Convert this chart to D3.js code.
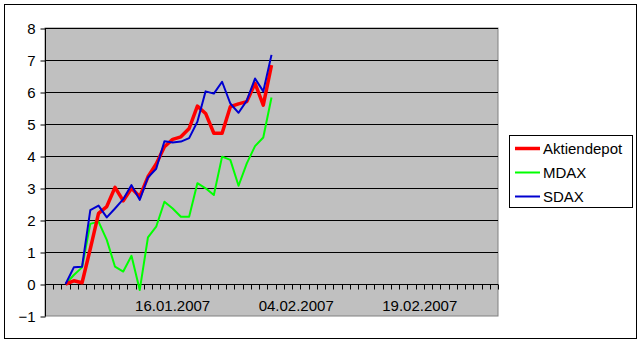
<!DOCTYPE html>
<html>
<head>
<meta charset="utf-8">
<script src="https://cdn.jsdelivr.net/npm/d3@7"></script>
<style>
  html, body { margin: 0; padding: 0; background: #fff; }
  svg { display: block; font-family: "Liberation Sans", Arial, sans-serif; }
</style>
</head>
<body>
<svg id="chart" width="642" height="343"></svg>
<script>
// ---- data ----
const seriesNames = ["Aktiendepot", "MDAX", "SDAX"];
const seriesColors = ["#FF0000", "#00FF00", "#0000D0"];
const aktiendepot = [0, 0.10, 0.04, 1.10, 2.21, 2.42, 3.02, 2.60, 2.99, 2.73, 3.35, 3.75, 4.29, 4.52, 4.60, 4.86, 5.56, 5.33, 4.71, 4.71, 5.54, 5.63, 5.70, 6.27, 5.59, 6.84];
const mdax        = [0, 0.28, 0.52, 1.88, 1.95, 1.38, 0.54, 0.39, 0.88, -0.19, 1.46, 1.79, 2.57, 2.36, 2.10, 2.10, 3.15, 2.99, 2.78, 3.98, 3.88, 3.07, 3.77, 4.31, 4.58, 5.83];
const sdax        = [0, 0.52, 0.54, 2.31, 2.45, 2.08, 2.36, 2.65, 3.09, 2.63, 3.33, 3.60, 4.46, 4.42, 4.45, 4.56, 5.07, 6.02, 5.95, 6.32, 5.64, 5.35, 5.73, 6.42, 6.02, 7.16];
const categoryCount = 55;       // categories on the x axis
const dataStartIndex = 2;       // category of the first data point
const xTickLabels = ["16.01.2007", "04.02.2007", "19.02.2007"];
const xTickIndex = [15, 30, 45];
const yTicks = [-1, 0, 1, 2, 3, 4, 5, 6, 7, 8];

// ---- layout ----
const svg = d3.select("#chart");
const plot = { left: 45, top: 28, right: 498, bottom: 316 };

// chart border
svg.append("rect").attr("x", 4.5).attr("y", 4.5).attr("width", 632).attr("height", 334)
  .attr("fill", "#fff").attr("stroke", "#000").attr("stroke-width", 1);

const x = d3.scaleBand().domain(d3.range(categoryCount)).range([plot.left, plot.right]);
const y = d3.scaleLinear().domain([-1, 8]).range([plot.bottom, plot.top]);

// plot area
svg.append("rect").attr("x", plot.left).attr("y", plot.top)
  .attr("width", plot.right - plot.left).attr("height", plot.bottom - plot.top)
  .attr("fill", "#C0C0C0").attr("stroke", "#808080").attr("stroke-width", 1);

// gridlines
svg.append("g").selectAll("line").data(yTicks.filter(v => v > 0)).join("line")
  .attr("x1", plot.left).attr("x2", plot.right)
  .attr("y1", d => Math.round(y(d)) + 0.5).attr("y2", d => Math.round(y(d)) + 0.5)
  .attr("stroke", "#000").attr("stroke-width", 1);

// y axis
const yAxis = d3.axisLeft(y).tickValues(yTicks).tickSize(5).tickPadding(5).tickFormat(d3.format("d"));
const gy = svg.append("g").attr("transform", `translate(${plot.left + 0.5},0.5)`).call(yAxis);
gy.selectAll("text").attr("font-size", 15).attr("fill", "#000").attr("font-family", "Liberation Sans, Arial, sans-serif");
gy.selectAll("line,path").attr("stroke", "#000");
gy.select(".domain").attr("d", `M0,${plot.top}V${plot.bottom}`);

// x axis at value 0
const boundaries = d3.range(categoryCount + 1);
const y0 = Math.round(y(0)) + 0.5;
const gx = svg.append("g");
gx.append("line").attr("x1", plot.left).attr("x2", plot.right).attr("y1", y0).attr("y2", y0).attr("stroke", "#000");
gx.selectAll("line.tick").data(boundaries).join("line").attr("class", "tick")
  .attr("x1", d => Math.round(plot.left + d * x.step()) + 0.5)
  .attr("x2", d => Math.round(plot.left + d * x.step()) + 0.5)
  .attr("y1", y0).attr("y2", y0 + 5).attr("stroke", "#000");
gx.selectAll("text").data(xTickLabels).join("text")
  .attr("x", (d, i) => x(xTickIndex[i]) + x.bandwidth() / 2)
  .attr("y", 311).attr("text-anchor", "middle").attr("font-size", 15).attr("fill", "#000")
  .text(d => d);

// series lines
const allSeries = [aktiendepot, mdax, sdax];
const widths = [3.5, 2, 2];
const line = d3.line()
  .x((d, i) => x(i + dataStartIndex) + x.bandwidth() / 2)
  .y(d => y(d));
[1, 0, 2].forEach(s => {
  svg.append("path").datum(allSeries[s]).attr("d", line)
    .attr("fill", "none").attr("stroke", seriesColors[s]).attr("stroke-width", widths[s])
    .attr("stroke-linejoin", "round");
});

// legend
const lg = svg.append("g");
lg.append("rect").attr("x", 509.5).attr("y", 135.5).attr("width", 123).attr("height", 72)
  .attr("fill", "#fff").attr("stroke", "#000");
seriesNames.forEach((name, i) => {
  const ly = 148.5 + i * 24;
  lg.append("line").attr("x1", 515).attr("x2", 540).attr("y1", ly).attr("y2", ly)
    .attr("stroke", seriesColors[i]).attr("stroke-width", i === 0 ? 3.5 : 2);
  lg.append("text").attr("x", 543).attr("y", ly + 5.5).attr("font-size", 15).attr("fill", "#000").text(name);
});
</script>
</body>
</html>
